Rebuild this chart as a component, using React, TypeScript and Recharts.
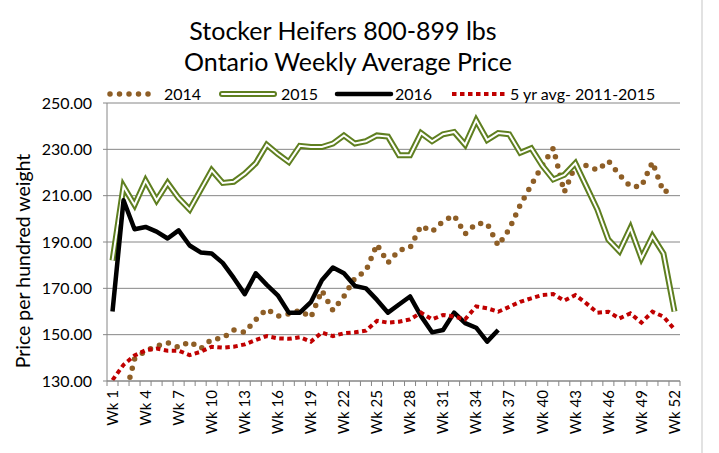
import { LineChart, Line, XAxis, YAxis, CartesianGrid } from "recharts";

const WEEKS = Array.from({ length: 52 }, (_, i) => `Wk ${i + 1}`);

const Y2014 = [
  119, 120.5, 139.5, 143, 145, 146.5, 144.5, 147, 144, 148, 148.5, 152, 151,
  156.5, 161, 158, 159, 160.5, 157.5, 169, 160.5, 166.5, 174.5, 177.5, 189, 181,
  186.5, 187.5, 197, 194.5, 199, 201.5, 193.5, 198, 198, 188.5, 195.5, 206,
  214.5, 223, 230.5, 211.5, 223, 223, 221, 225, 219, 214, 214, 224.5, 211.5, 213,
];

const Y2015 = [
  182, 214, 206, 216.5, 208, 215.5, 209, 204, 212.5, 221, 215.5, 216, 219.5,
  224, 232, 228, 224.5, 231.5, 231, 231, 232.5, 236, 232.5, 233.5, 236, 235.5,
  227.5, 227.5, 237, 233.5, 236.5, 237.5, 232, 242.5, 234, 237, 236.5, 228.5,
  230.5, 223, 217, 219, 224, 214, 204, 191, 186, 196, 183, 192.5, 185, 160,
];

const Y2016 = [
  160, 208, 195.5, 196.5, 194.5, 191.5, 195, 188.5, 185.5, 185, 181, 174.5,
  167.5, 176.5, 171.5, 167, 159.5, 159.5, 164, 173.5, 179, 176.5, 171, 170, 165,
  159.5, 163, 166.5, 158, 151, 152, 159.5, 155, 153, 147, 152,
];

const AVG_5YR = [
  130.4, 137, 141, 143.3, 144, 143.1, 143.1, 141.2, 142.6, 144.8, 144.4, 144.8,
  145.8, 147.7, 149.4, 148.4, 148.2, 148.9, 147, 150.9, 149.4, 150.6, 151,
  151.7, 156, 155.2, 155.6, 156.6, 159.5, 156.6, 158.5, 157.8, 156.6, 162.2,
  161.4, 159.9, 162, 164.2, 165.7, 167.1, 167.5, 164.7, 167.1, 163.5, 159.5,
  159.9, 157, 159.2, 155.2, 159.9, 157.8, 152.3,
];

const Y_TICKS = [130, 150, 170, 190, 210, 230, 250];

const data = WEEKS.map((week, i) => ({
  week,
  y2014: Y2014[i],
  y2015: Y2015[i],
  y2016: Y2016[i],
  avg: AVG_5YR[i],
}));

const FONT = "Lato, 'Open Sans', sans-serif";
const BROWN = "#8E5E26";
const GREEN = "#5F7F20";
const RED = "#C00000";
const AXIS = "#868686";

const PLOT_LEFT = 107;
const PLOT_RIGHT = 680;
const HALF_BAND = (PLOT_RIGHT - PLOT_LEFT) / 52 / 2;

const WeekTick = (props: any) => {
  const { x, y, payload, index } = props;
  const ty = y + 9;
  return (
    <g>
      <line x1={x - HALF_BAND} y1={y} x2={x - HALF_BAND} y2={y + 5} stroke={AXIS} />
      {index === 51 && (
        <line x1={x + HALF_BAND} y1={y} x2={x + HALF_BAND} y2={y + 5} stroke={AXIS} />
      )}
      {index % 3 === 0 && (
        <text
          x={x}
          y={ty}
          dy="0.35em"
          textAnchor="end"
          transform={`rotate(-90, ${x}, ${ty})`}
          fontSize={15}
          fontFamily={FONT}
          fill="#000"
        >
          {payload.value}
        </text>
      )}
    </g>
  );
};

const legendItems = [
  { label: "2014", x: 107, w: 50, textX: 164 },
  { label: "2015", x: 222, w: 52, textX: 281 },
  { label: "2016", x: 337, w: 54, textX: 395 },
  { label: "5 yr avg- 2011-2015", x: 452, w: 54, textX: 510 },
];

const LegendSample = ({ i, x, w, y }: { i: number; x: number; w: number; y: number }) => {
  if (i === 0)
    return (
      <line x1={x + 3} y1={y} x2={x + w} y2={y} stroke={BROWN} strokeWidth={5.5}
        strokeDasharray="0 9.5" strokeLinecap="round" />
    );
  if (i === 1)
    return (
      <g>
        <line x1={x} y1={y} x2={x + w} y2={y} stroke={GREEN} strokeWidth={6} strokeLinecap="round" />
        <line x1={x} y1={y} x2={x + w} y2={y} stroke="#fff" strokeWidth={2} strokeLinecap="round" />
      </g>
    );
  if (i === 2)
    return <line x1={x} y1={y} x2={x + w} y2={y} stroke="#000" strokeWidth={4.5} strokeLinecap="round" />;
  return <line x1={x} y1={y} x2={x + w} y2={y} stroke={RED} strokeWidth={4} strokeDasharray="4.5 3.5" />;
};

export default function App() {
  return (
    <div style={{ position: "absolute", left: 0, top: 0, width: 719, height: 453, background: "#fff" }}>
      <LineChart
        width={719}
        height={453}
        data={data}
        margin={{ top: 103, right: 719 - PLOT_RIGHT, bottom: 0, left: 0 }}
      >
        <CartesianGrid vertical={false} stroke={AXIS} />
        <XAxis
          dataKey="week"
          interval={0}
          height={72}
          padding={{ left: HALF_BAND, right: HALF_BAND }}
          axisLine={{ stroke: AXIS }}
          tickLine={false}
          tickSize={0}
          tickMargin={0}
          tick={<WeekTick />}
        />
        <YAxis
          width={PLOT_LEFT}
          domain={[130, 250]}
          ticks={Y_TICKS}
          allowDataOverflow
          axisLine={{ stroke: AXIS }}
          tickLine={{ stroke: AXIS }}
          tickSize={4}
          tickMargin={11}
          tickFormatter={(v: number) => v.toFixed(2)}
          tick={{ fontSize: 16, fontFamily: FONT, fill: "#000" }}
        />
        <Line dataKey="y2014" stroke={BROWN} strokeWidth={5.5} strokeDasharray="0 9.5"
          strokeLinecap="round" dot={false} activeDot={false} isAnimationActive={false} />
        <Line dataKey="y2015" stroke={GREEN} strokeWidth={6} dot={false} activeDot={false}
          isAnimationActive={false} />
        <Line dataKey="y2015" stroke="#fff" strokeWidth={2} dot={false} activeDot={false}
          isAnimationActive={false} />
        <Line dataKey="y2016" stroke="#000" strokeWidth={4.5} strokeLinejoin="round" dot={false}
          activeDot={false} isAnimationActive={false} />
        <Line dataKey="avg" stroke={RED} strokeWidth={4} strokeDasharray="4.5 3.5" dot={false}
          activeDot={false} isAnimationActive={false} />
      </LineChart>

      <svg width={719} height={453} style={{ position: "absolute", left: 0, top: 0, pointerEvents: "none" }}>
        <line x1={702} y1={0} x2={702} y2={453} stroke="#d9d9d9" strokeWidth={1.5} />
        <text x={343} y={40} textAnchor="middle" fontSize={25} fontFamily={FONT} fill="#000">
          Stocker Heifers 800-899 lbs
        </text>
        <text x={348} y={70.5} textAnchor="middle" fontSize={25} fontFamily={FONT} fill="#000">
          Ontario Weekly Average Price
        </text>
        <text x={30} y={261} textAnchor="middle" fontSize={19.5} fontFamily={FONT} fill="#000"
          transform="rotate(-90, 30, 261)">
          Price per hundred weight
        </text>
        {legendItems.map((it, i) => (
          <g key={it.label}>
            <LegendSample i={i} x={it.x} w={it.w} y={94} />
            <text x={it.textX} y={99.5} fontSize={16} fontFamily={FONT} fill="#000">
              {it.label}
            </text>
          </g>
        ))}
      </svg>
    </div>
  );
}
